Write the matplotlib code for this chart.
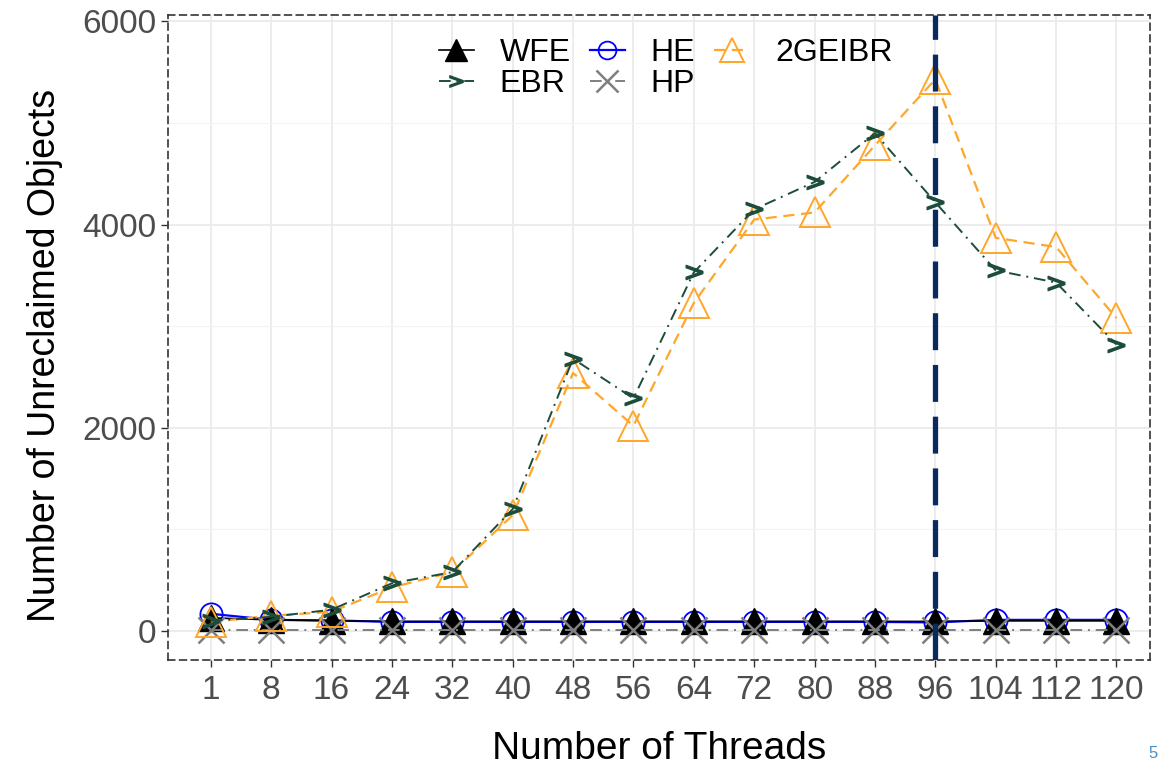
import matplotlib
matplotlib.use("Agg")
import matplotlib.pyplot as plt
from matplotlib.ticker import MultipleLocator

plt.rcParams['font.family'] = ['Liberation Sans', 'DejaVu Sans']

threads = [1, 8, 16, 24, 32, 40, 48, 56, 64, 72, 80, 88, 96, 104, 112, 120]
wfe = [130, 110, 100, 95, 95, 95, 95, 95, 95, 95, 95, 95, 95, 100, 100, 100]
he = [170, 110, 105, 90, 90, 90, 90, 90, 90, 90, 90, 90, 85, 110, 110, 110]
hp = [10, 10, 10, 10, 10, 10, 10, 10, 10, 10, 10, 10, 10, 10, 10, 10]
ebr = [100, 140, 210, 470, 580, 1200, 2680, 2290, 3530, 4150, 4420, 4900, 4220, 3550, 3430, 2820]
gebr2 = [90, 150, 190, 430, 580, 1140, 2540, 2020, 3230, 4050, 4120, 4780, 5430, 3870, 3780, 3080]
marked_thread = 96

x = list(range(len(threads)))

fig = plt.figure(figsize=(11.66, 7.67), dpi=100)
ax = fig.add_axes([0.144, 0.1395, 0.842, 0.8405])

# grid like ggplot theme_bw
ax.set_axisbelow(True)
ax.yaxis.set_minor_locator(MultipleLocator(1000))
ax.grid(which='major', color='#EBEBEB', lw=1.3)
ax.grid(which='minor', axis='y', color='#F4F4F4', lw=0.8)

dotdash = (0, (6, 3, 1, 3))
ax.plot(x, he, color='#0000FF', lw=1.6, marker='o', ms=16, mfc='none', mec='#0000FF', mew=1.3, label='HE', zorder=3)
ax.plot(x, wfe, color='black', lw=1.2, marker='^', ms=19, label='WFE', zorder=4)
ax.plot(x, hp, color='#7F7F7F', lw=1.4, ls=dotdash, marker='x', ms=19, mew=1.8, label='HP', zorder=5)
ax.plot(x, ebr, color='#1B4D3A', lw=1.4, ls=dotdash, marker=r'$>$', ms=12, label='EBR', zorder=6)
ax.plot(x, gebr2, color='#FFA62B', lw=1.6, ls=(0, (5, 3)), marker='^', ms=21, mfc='none', mec='#FFA62B', mew=1.4, label='2GEIBR', zorder=5)

ax.axvline(threads.index(marked_thread), color='#0A2A5E', lw=3.8, ls=(0, (7, 2.8)), zorder=7)

ax.set_xticks(x)
ax.set_xticklabels([str(t) for t in threads])
ax.set_yticks([0, 2000, 4000, 6000])
ax.set_xlim(-0.71, 15.55)
ax.set_ylim(-285, 6060)
ax.tick_params(axis='both', which='major', labelsize=24, labelcolor='#4D4D4D', color='#333333', length=5, width=1)
ax.tick_params(axis='y', which='minor', length=0)
ax.tick_params(axis='x', pad=6)

for s in ax.spines.values():
    s.set_linestyle((0, (4, 3)))
    s.set_color('#333333')
    s.set_linewidth(1.2)

ax.set_xlabel('Number of Threads', fontsize=28, labelpad=18)
ax.set_ylabel('Number of Unreclaimed Objects', fontsize=27)
ax.yaxis.set_label_coords(-0.107, 0.473)

handles, labels = ax.get_legend_handles_labels()
hmap = dict(zip(labels, handles))
order = ['WFE', 'EBR', 'HE', 'HP', '2GEIBR']
leg = ax.legend([hmap[k] for k in order], order, ncol=3, loc='upper center',
                bbox_to_anchor=(0.507, 1.0), frameon=False, fontsize=23,
                handlelength=1.1, columnspacing=0.6, handletextpad=0.8,
                labelspacing=0.05, markerscale=0.8, borderpad=0.2)

fig.text(0.985, 0.012, '5', color='#4A8CC2', fontsize=12, ha='left')

fig.savefig('out.png', dpi=100)
